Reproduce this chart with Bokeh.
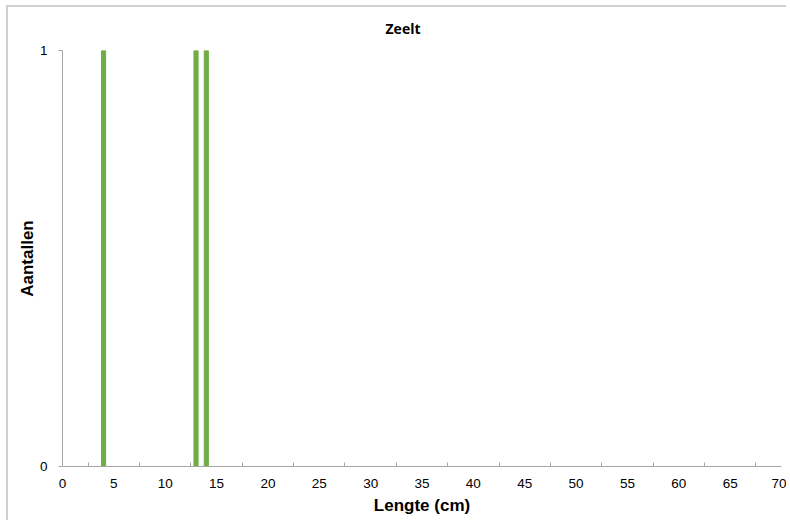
from bokeh.plotting import figure
from bokeh.models import Range1d, FixedTicker
from bokeh.embed import file_html
from bokeh.resources import INLINE

lengths = [4, 13, 14]
counts = [1, 1, 1]
x_ticks = list(range(0, 75, 5))
x_minor = [2.5 + 5 * i for i in range(14)]
y_ticks = [0, 1]

p = figure(width=780, height=515, output_backend="svg", toolbar_location=None,
           x_range=Range1d(0, 70), y_range=Range1d(0, 1),
           min_border_left=54, min_border_right=7, min_border_top=43, min_border_bottom=56)

p.vbar(x=lengths, top=counts, width=0.4, color="#70AD47")

p.title.text = "Zeelt"
p.title.align = "left"
p.title.offset = 323
p.title.vertical_align = "top"
p.title.text_font = "Open Sans"
p.title.text_font_style = "bold"
p.title.text_font_size = "14px"
p.title.text_color = "#000000"
p.title.standoff = 21

p.outline_line_color = None
p.xgrid.grid_line_color = None
p.ygrid.grid_line_color = "#bfbfbf"
p.ygrid.ticker = FixedTicker(ticks=[1])

p.xaxis.ticker = FixedTicker(ticks=x_ticks, minor_ticks=x_minor)
p.xaxis.major_tick_in = 0
p.xaxis.major_tick_out = 0
p.xaxis.minor_tick_in = 4
p.xaxis.minor_tick_out = 0
p.xaxis.minor_tick_line_color = "#a6a6a6"
p.xaxis.axis_line_color = "#a6a6a6"
p.xaxis.major_label_text_font = "Liberation Sans"
p.xaxis.major_label_text_font_size = "13.5px"
p.xaxis.major_label_text_color = "#000000"
p.xaxis.major_label_standoff = 12
p.xaxis.axis_label = "Lengte (cm)"
p.xaxis.axis_label_text_font = "Liberation Sans"
p.xaxis.axis_label_text_font_style = "bold"
p.xaxis.axis_label_text_font_size = "17px"
p.xaxis.axis_label_text_color = "#000000"
p.xaxis.axis_label_standoff = 5

p.yaxis.ticker = FixedTicker(ticks=y_ticks)
p.yaxis.major_tick_in = 0
p.yaxis.major_tick_out = 4
p.yaxis.major_tick_line_color = "#a6a6a6"
p.yaxis.minor_tick_line_color = None
p.yaxis.axis_line_color = "#a6a6a6"
p.yaxis.major_label_text_font = "Liberation Sans"
p.yaxis.major_label_text_font_size = "13.5px"
p.yaxis.major_label_text_color = "#000000"
p.yaxis.major_label_standoff = 11
p.yaxis.axis_label = "Aantallen"
p.yaxis.axis_label_text_font = "Liberation Sans"
p.yaxis.axis_label_text_font_style = "bold"
p.yaxis.axis_label_text_font_size = "17px"
p.yaxis.axis_label_text_color = "#000000"
p.yaxis.axis_label_standoff = 0

p.styles = {"border-left": "2px solid #cfcfcf", "border-top": "2px solid #cfcfcf",
            "margin-left": "6px", "margin-top": "5px"}

open("out.html", "w").write(file_html(p, INLINE))
